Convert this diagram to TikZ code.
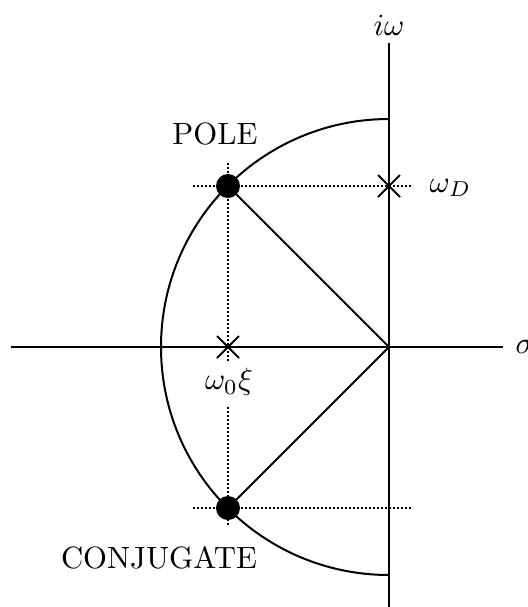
\documentclass[tikz,border=0pt]{standalone}
\begin{document}
\begin{tikzpicture}[x=0.325pt,y=-0.325pt,
  axis/.style={line width=0.65pt},
  guide/.style={line width=0.6pt,dash pattern=on 0.6pt off 0.7pt},
  crossmark/.style={line width=0.6pt},
  lbl/.style={inner sep=0pt,font=\fontsize{10}{12}\selectfont}]
\useasboundingbox (0,0) rectangle (528,607);
\coordinate (O) at (389,347);
\coordinate (hl) at (11,347);
\coordinate (hr) at (503,347);
\coordinate (vt) at (389,43);
\coordinate (vb) at (389,607);
\coordinate (P) at (228,186);
\coordinate (C) at (228,508);
\coordinate (X1) at (228,347);
\coordinate (X2) at (389,186);
% axes
\draw[axis] (hl) -- (hr);
\draw[axis] (vt) -- (vb);
% arc
\draw[axis] (389,119) arc[start angle=-90,end angle=-270,radius=228];
% guides
\draw[guide] (193,186) -- (413,186);
\draw[guide] (193,508) -- (413,508);
\draw[guide] (228,163) -- (228,363);
\draw[guide] (228,407) -- (228,527);
% radius lines
\draw[axis] (P) -- (O) -- (C);
% crosses
\draw[crossmark] ([shift={(-11,-11)}]X1) -- ([shift={(11,11)}]X1)
                 ([shift={(-11,11)}]X1) -- ([shift={(11,-11)}]X1);
\draw[crossmark] ([shift={(-11,-11)}]X2) -- ([shift={(11,11)}]X2)
                 ([shift={(-11,11)}]X2) -- ([shift={(11,-11)}]X2);
% poles
\fill (P) circle[radius=12];
\fill (C) circle[radius=12];
% labels
\node[lbl,anchor=west] (sig) at (515,347) {$\sigma$};
\node[lbl] (iw) at (389,25) {$i\omega$};
\node[lbl,anchor=west] (wd) at (429,188) {$\omega_D$};
\node[lbl] (w0) at (229,382) {$\omega_0\xi$};
\node[lbl] (pole) at (215,134) {POLE};
\node[lbl] (conj) at (159,558) {CONJUGATE};
\end{tikzpicture}
\end{document}
